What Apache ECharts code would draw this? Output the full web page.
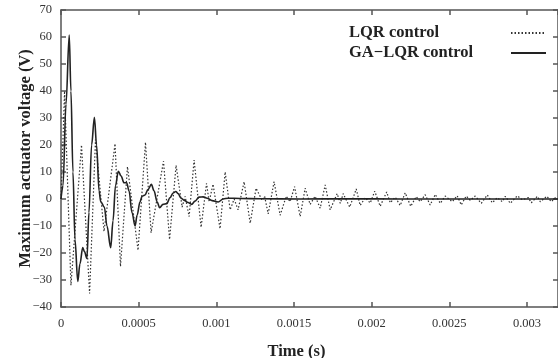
<!DOCTYPE html>
<html>
<head>
<meta charset="utf-8">
<script src="https://cdn.jsdelivr.net/npm/echarts@6/dist/echarts.min.js"></script>
<style>html,body{margin:0;padding:0;background:#fff;}#c{width:558px;height:358px;}</style>
</head>
<body>
<div id="c"></div>
<script>
// LQR control (dotted) – time (s) and voltage (V)
var lqrTime = [0, 0.000023, 0.000064, 0.000132, 0.000184, 0.000222, 0.000277, 0.000348, 0.000383, 0.000428, 0.000496, 0.000544, 0.000580, 0.000660, 0.000699, 0.000741, 0.000780, 0.000799, 0.000825, 0.000857, 0.000902, 0.000937, 0.000954, 0.000979, 0.001024, 0.001057, 0.001089, 0.001115, 0.001140, 0.001179, 0.001218, 0.001256, 0.001295, 0.001311, 0.001334, 0.001372, 0.001411, 0.001450, 0.001475, 0.001504, 0.001540, 0.001572, 0.001604, 0.001636, 0.001669, 0.001701, 0.001733, 0.001778, 0.001798, 0.001817, 0.001859, 0.001901, 0.001926, 0.001959, 0.001991, 0.002020, 0.002055, 0.002097, 0.002120, 0.002152, 0.002184, 0.002216, 0.002252, 0.002287, 0.002313, 0.002345, 0.002377, 0.002410, 0.002442, 0.002474, 0.002519, 0.002551, 0.002577, 0.002609, 0.002635, 0.002667, 0.002706, 0.002745, 0.002777, 0.002809, 0.002841, 0.002861, 0.002893, 0.002938, 0.002970, 0.003009, 0.003028, 0.003067, 0.003086, 0.003128, 0.003157, 0.003183, 0.003200];
var lqrVolt = [0, 40, -32, 20, -35, 22, -12, 20.5, -25, 12, -19, 21, -12.5, 14, -15, 12.5, -3, 1, -6.5, 14.4, -10.5, 5.8, -1, 5.5, -11, 10, -4, 0, -4, 6.4, -9, 4, -0.5, 1, -5.5, 6.4, -6, 1, -1, 4.6, -6.5, 4, -2, 1, -3.4, 5.2, -4, 2, -1.6, 2, -3, 3.7, -2.4, 0.5, -1.5, 2.9, -2.7, 2.6, -1.4, 0.7, -2.4, 2.3, -2.7, 0.9, -1, 1.6, -2.2, 1.7, -1.6, 1.1, -1, 1.2, -2.2, 1.1, -0.5, 1.1, -1.6, 1.5, -1.4, 0.5, -1, 1, -1.6, 1.2, -0.3, 0.5, -1.4, 1, -1, 1, -1, 0.5, 0];

// GA-LQR control (solid)
var gaTime = [0, 0.000013, 0.000032, 0.000053, 0.000064, 0.000077, 0.000090, 0.000108, 0.000122, 0.000140, 0.000151, 0.000167, 0.000180, 0.000197, 0.000215, 0.000229, 0.000245, 0.000256, 0.000279, 0.000296, 0.000320, 0.000335, 0.000351, 0.000369, 0.000387, 0.000406, 0.000423, 0.000438, 0.000457, 0.000477, 0.000490, 0.000509, 0.000522, 0.000541, 0.000560, 0.000582, 0.000599, 0.000619, 0.000635, 0.000657, 0.000681, 0.000702, 0.000722, 0.000739, 0.000754, 0.000773, 0.000794, 0.000818, 0.000841, 0.000863, 0.000889, 0.000915, 0.000941, 0.000973, 0.001012, 0.001044, 0.001076, 0.001153, 0.001282, 0.001540, 0.001862, 0.002184, 0.002506, 0.002828, 0.003200];
var gaVolt = [0, 5, 35, 60.7, 40, 10, -15, -30.5, -24, -18, -19.5, -22, -5, 20, 30.3, 20, 3, -1, -3, -10, -18, -8, 5, 10.3, 8.5, 6, 6, 3, -5, -10, -6, -1, 1, 1.5, 3.5, 5.4, 3, -1, -3.2, -2, -1.7, 0.5, 2.2, 2.8, 2, 0.3, -0.5, -1.3, -2, -0.8, 0.7, 0.8, 0.3, -0.6, -1.1, 0, 0.3, 0.2, 0.1, 0, 0.1, 0, 0, 0, 0];

var seriesNames = ['LQR control', 'GA\u2212LQR control'];
var xTicks = [0, 0.0005, 0.001, 0.0015, 0.002, 0.0025, 0.003];
var yTicks = [-40, -30, -20, -10, 0, 10, 20, 30, 40, 50, 60, 70];

function zip(a, b) { return a.map(function (v, i) { return [v, b[i]]; }); }

var serif = 'Liberation Serif, Times New Roman, serif';
var frame = '#555';
var chart = echarts.init(document.getElementById('c'), null, { renderer: 'canvas' });
var xLabel = function (v) {
  for (var i = 0; i < xTicks.length; i++) if (Math.abs(xTicks[i] - v) < 1e-9) return String(xTicks[i]);
  return '';
};
var yLabel = function (v) { return String(v).replace('-', '\u2212'); };
var axisLine = { show: true, onZero: false, lineStyle: { color: frame, width: 1.5 } };
var axisTick = { show: true, inside: true, length: 5, lineStyle: { color: frame, width: 1.5 } };

chart.setOption({
  animation: false,
  backgroundColor: '#fff',
  grid: { left: 61, right: 0, top: 10, bottom: 51, outerBoundsMode: 'none', containLabel: false },
  legend: {
    orient: 'vertical', left: 349, top: 23, align: 'right', padding: 0,
    itemWidth: 35, itemHeight: 14, itemGap: 0,
    itemStyle: { opacity: 0 },
    formatter: '{a|{name}}',
    textStyle: {
      fontFamily: serif, fontWeight: 'bold', fontSize: 16.5, lineHeight: 20, color: '#222',
      rich: { a: { width: 157, align: 'left', fontFamily: serif, fontWeight: 'bold', fontSize: 16.5, lineHeight: 20, color: '#222' } }
    },
    data: seriesNames
  },
  xAxis: [{
    type: 'value', min: 0, max: 0.0032, interval: 0.0005,
    name: 'Time (s)', nameLocation: 'middle', nameGap: 36, nameMoveOverlap: false,
    nameTextStyle: { fontFamily: serif, fontWeight: 'bold', fontSize: 16.5, color: '#222', padding: [0, 26, 0, 0] },
    axisLine: axisLine, axisTick: axisTick,
    axisLabel: { formatter: xLabel, fontFamily: serif, fontSize: 12.5, color: '#333', margin: 10, showMaxLabel: false },
    splitLine: { show: false }
  }, {
    type: 'value', position: 'top', min: 0, max: 0.0032, interval: 0.0005,
    axisLine: axisLine, axisTick: axisTick,
    axisLabel: { show: false }, splitLine: { show: false }
  }],
  yAxis: [{
    type: 'value', min: -40, max: 70, interval: 10,
    name: 'Maximum actuator voltage (V)', nameLocation: 'middle', nameGap: 27, nameMoveOverlap: false,
    nameTextStyle: { fontFamily: serif, fontWeight: 'bold', fontSize: 16.5, color: '#222' },
    axisLine: axisLine, axisTick: axisTick,
    axisLabel: { formatter: yLabel, fontFamily: serif, fontSize: 12.5, color: '#333', margin: 9 },
    splitLine: { show: false }
  }, {
    type: 'value', position: 'right', min: -40, max: 70, interval: 10,
    axisLine: axisLine, axisTick: axisTick,
    axisLabel: { show: false }, splitLine: { show: false }
  }],
  series: [{
    name: seriesNames[0], type: 'line', showSymbol: false, symbol: 'none',
    data: zip(lqrTime, lqrVolt),
    lineStyle: { color: '#333', width: 1.2, type: [1.5, 2] },
    itemStyle: { color: '#333' }
  }, {
    name: seriesNames[1], type: 'line', showSymbol: false, symbol: 'none',
    smooth: 0.35, smoothMonotone: 'x',
    data: zip(gaTime, gaVolt),
    lineStyle: { color: '#222', width: 1.6 },
    itemStyle: { color: '#222' }
  }]
});
</script>
</body>
</html>
